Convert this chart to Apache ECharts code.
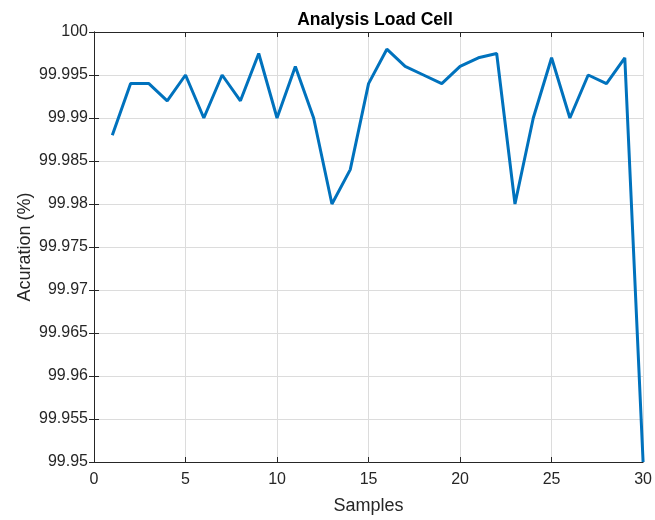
<!DOCTYPE html>
<html><head><meta charset="utf-8">
<script src="https://cdn.jsdelivr.net/npm/echarts@6/dist/echarts.min.js"></script>
<style>html,body{margin:0;padding:0;background:#fff;overflow:hidden;width:655px;height:520px}#c{width:655px;height:520px}</style>
</head><body><div id="c"></div>
<script>
const samples = [1,2,3,4,5,6,7,8,9,10,11,12,13,14,15,16,17,18,19,20,21,22,23,24,25,26,27,28,29,30];
const accuracy = [99.988,99.994,99.994,99.992,99.995,99.990,99.995,99.992,99.9975,99.990,99.996,99.990,99.980,99.984,99.994,99.998,99.996,99.995,99.994,99.996,99.997,99.9975,99.980,99.990,99.997,99.990,99.995,99.994,99.997,99.950];
const xTicks = [0,5,10,15,20,25,30];
const yTicks = [99.95,99.955,99.96,99.965,99.97,99.975,99.98,99.985,99.99,99.995,100];

const font = "'Liberation Sans', Arial, Helvetica, sans-serif";
const chart = echarts.init(document.getElementById('c'));
const fmtY = v => String(parseFloat(v.toFixed(3)));
const axisLine = {show:true, lineStyle:{color:'#262626', width:1}};
const tick = {show:true, inside:true, length:5, lineStyle:{color:'#262626'}};
const gridLine = {show:true, lineStyle:{color:'#dcdcdc', width:1}};
chart.setOption({
  animation:false,
  title:{text:'Analysis Load Cell', left:370, top:6, textAlign:'center',
    textStyle:{fontFamily:font, fontSize:17.5, fontWeight:'bold', color:'#000'}},
  grid:{left:94, right:10, top:32, bottom:55, containLabel:false},
  xAxis:[{type:'value', min:xTicks[0], max:xTicks[xTicks.length-1], interval:5,
    name:'Samples', nameLocation:'middle', nameGap:35, nameMoveOverlap:false,
    nameTextStyle:{fontFamily:font, fontSize:18, color:'#262626'},
    axisLine:axisLine, axisTick:tick, splitLine:gridLine,
    axisLabel:{fontFamily:font, fontSize:16, color:'#262626', margin:10}},
   {type:'value', position:'top', min:0, max:30, interval:5,
    axisLine:axisLine, axisTick:tick, axisLabel:{show:false}, splitLine:{show:false}}],
  yAxis:[{type:'value', min:yTicks[0], max:yTicks[yTicks.length-1], interval:0.005,
    name:'Acuration (%)', nameLocation:'middle', nameGap:60, nameMoveOverlap:false,
    nameTextStyle:{fontFamily:font, fontSize:18, color:'#262626'},
    axisLine:axisLine, axisTick:tick, splitLine:gridLine,
    axisLabel:{fontFamily:font, fontSize:16, color:'#262626', margin:6, formatter:fmtY}},
   {type:'value', position:'right', min:99.95, max:100, interval:0.005,
    axisLine:axisLine, axisTick:tick, axisLabel:{show:false}, splitLine:{show:false}}],
  series:[{type:'line', data:samples.map((s,i)=>[s,accuracy[i]]), showSymbol:false,
    lineStyle:{color:'#0072BD', width:3}, clip:false}]
});
</script></body></html>
